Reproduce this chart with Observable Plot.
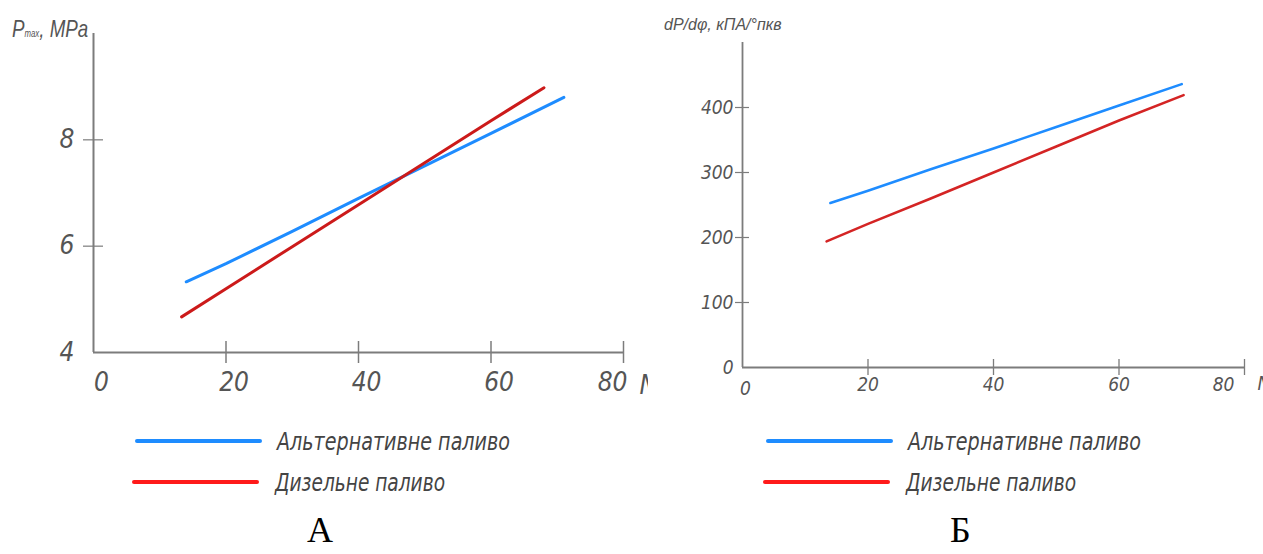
<!DOCTYPE html>
<html>
<head>
<meta charset="utf-8">
<script src="https://cdn.jsdelivr.net/npm/d3@7"></script>
<script src="https://cdn.jsdelivr.net/npm/@observablehq/plot@0.6"></script>
<style>
  html, body { margin: 0; padding: 0; background: #fff; }
  body { width: 1263px; height: 554px; position: relative; overflow: hidden; font-family: "Liberation Sans Narrow", "DejaVu Sans Condensed", sans-serif; }
  .panel { position: absolute; top: 0; height: 410px; overflow: hidden; }
  .ytitle { position: absolute; font-style: italic; color: #555; white-space: nowrap; font-family: "Liberation Sans Narrow", sans-serif; transform-origin: left top; }
  .cap { position: absolute; font-family: "Liberation Serif", serif; font-size: 36px; color: #000; }
  #legend { position: absolute; left: 0; top: 0; pointer-events: none; }
</style>
</head>
<body>
<div id="A" class="panel" style="left:0;width:648px"></div>
<div id="B" class="panel" style="left:648px;width:615px"></div>
<div class="ytitle" style="left:12px;top:15px;font-size:24px;transform:scaleX(0.78)">P<span style="font-size:10px">max</span>, MPa</div>
<div class="ytitle" style="left:664px;top:16px;font-size:16px">dP/dφ, кПА/°пкв</div>
<svg id="legend" width="1263" height="554"></svg>
<div class="cap" style="left:307px;top:509px">А</div>
<div class="cap" style="left:950px;top:509px">Б</div>
<script>
// ---- data ----
const seriesNames = ["Альтернативне паливо", "Дизельне паливо"];
// panel A: Pmax, MPa
const xA_alt = [14, 20, 30, 40, 50, 60, 71];
const yA_alt = [5.33, 5.67, 6.28, 6.90, 7.51, 8.12, 8.80];
const xA_dsl = [13.3, 20, 30, 40, 50, 60, 68];
const yA_dsl = [4.67, 5.20, 5.99, 6.78, 7.57, 8.36, 8.98];
// panel B: dP/dφ, кПА/°пкв
const xB_alt = [14, 20, 30, 40, 50, 60, 70];
const yB_alt = [253, 272, 305, 337, 370, 403, 436];
const xB_dsl = [13.4, 20, 30, 40, 50, 60, 70.3];
const yB_dsl = [194, 221, 260, 300, 340, 380, 419];
// ticks
const xTicks = [0, 20, 40, 60, 80];
const yTicksA = [4, 6, 8];
const yTicksB = [0, 100, 200, 300, 400];
const xAxisName = "N";

const rows = (xs, ys, s) => xs.map((x, i) => ({x, y: ys[i], s}));
const dataA = [...rows(xA_alt, yA_alt, seriesNames[0]), ...rows(xA_dsl, yA_dsl, seriesNames[1])];
const dataB = [...rows(xB_alt, yB_alt, seriesNames[0]), ...rows(xB_dsl, yB_dsl, seriesNames[1])];

const axisCol = "#7c7c7c";
const labCol = "#555";
const font = "'Liberation Sans Narrow', 'DejaVu Sans Condensed', sans-serif";
const blank = () => "";
const intFmt = d3.format("d");

const plotA = Plot.plot({
  width: 648, height: 410,
  marginLeft: 93, marginRight: 25, marginTop: 33, marginBottom: 58,
  x: {domain: [0, 80]},
  y: {domain: [4, 10]},
  color: {domain: seriesNames, range: ["#1e8cff", "#cc1a1a"]},
  style: {fontFamily: font, background: "transparent", overflow: "hidden"},
  marks: [
    Plot.ruleX([0], {stroke: axisCol, strokeWidth: 2}),
    Plot.ruleY([4], {stroke: axisCol, strokeWidth: 2}),
    Plot.axisX(xTicks.slice(1), {tickSize: 22, dy: -11, tickFormat: blank, color: axisCol, strokeWidth: 1.5, label: null}),
    Plot.axisY(yTicksA.slice(1), {tickSize: 20, dx: 10, tickFormat: blank, color: axisCol, strokeWidth: 1.2, label: null}),
    Plot.axisX(xTicks.slice(0, 4), {tickSize: 0, tickPadding: 20, dx: 8, tickFormat: intFmt, fontSize: 26, fontStyle: "italic", color: labCol, label: null}),
    Plot.axisX(xTicks.slice(4), {tickSize: 0, tickPadding: 20, dx: -11, tickFormat: intFmt, fontSize: 26, fontStyle: "italic", color: labCol, label: null}),
    Plot.axisY(yTicksA, {tickSize: 0, tickPadding: 19, tickFormat: intFmt, fontSize: 26, fontStyle: "italic", color: labCol, label: null}),
    Plot.text([xAxisName], {x: () => 80, y: () => 4, dx: 16, dy: 33, textAnchor: "start", fontSize: 26, fontStyle: "italic", fill: labCol}),
    Plot.line(dataA, {x: "x", y: "y", stroke: "s", strokeWidth: 3, curve: "linear"})
  ]
});
document.getElementById("A").appendChild(plotA);

const plotB = Plot.plot({
  width: 615, height: 410,
  marginLeft: 94, marginRight: 19, marginTop: 42, marginBottom: 43,
  x: {domain: [0, 80]},
  y: {domain: [0, 500]},
  color: {domain: seriesNames, range: ["#1e8cff", "#d42424"]},
  style: {fontFamily: font, background: "transparent", overflow: "hidden"},
  marks: [
    Plot.ruleX([0], {stroke: axisCol, strokeWidth: 1.8}),
    Plot.ruleY([0], {stroke: axisCol, strokeWidth: 1.8}),
    Plot.axisX(xTicks.slice(1), {tickSize: 16, dy: -8, tickFormat: blank, color: axisCol, strokeWidth: 1.3, label: null}),
    Plot.axisY(yTicksB.slice(1), {tickSize: 14, dx: 7, tickFormat: blank, color: axisCol, strokeWidth: 1.2, label: null}),
    Plot.axisX(xTicks.slice(1, 4), {tickSize: 0, tickPadding: 10, tickFormat: intFmt, fontSize: 19, fontStyle: "italic", color: labCol, label: null}),
    Plot.axisX(xTicks.slice(0, 1), {tickSize: 0, tickPadding: 14, dx: 3, tickFormat: intFmt, fontSize: 19, fontStyle: "italic", color: labCol, label: null}),
    Plot.axisX(xTicks.slice(4), {tickSize: 0, tickPadding: 10, dx: -21, tickFormat: intFmt, fontSize: 19, fontStyle: "italic", color: labCol, label: null}),
    Plot.axisY(yTicksB, {tickSize: 0, tickPadding: 9, tickFormat: intFmt, fontSize: 19, fontStyle: "italic", color: labCol, label: null}),
    Plot.text([xAxisName], {x: () => 80, y: () => 0, dx: 13, dy: 16, textAnchor: "start", fontSize: 19, fontStyle: "italic", fill: labCol}),
    Plot.line(dataB, {x: "x", y: "y", stroke: "s", strokeWidth: 2.5, curve: "linear"})
  ]
});
document.getElementById("B").appendChild(plotB);

// ---- legends (below each chart) ----
const legendColors = ["#1e8cff", "#ff1a1a"];
const legendTextLen = [233, 170];
const leg = d3.select("#legend");
[{x0: 137, tx: 277}, {x0: 768, tx: 908}].forEach(p => {
  seriesNames.forEach((name, i) => {
    const yy = 441 + i * 41;
    const dx = i === 0 ? 0 : -3;
    leg.append("line")
      .attr("x1", p.x0 + dx).attr("x2", p.x0 + dx + 123)
      .attr("y1", yy).attr("y2", yy)
      .attr("stroke", legendColors[i]).attr("stroke-width", 4).attr("stroke-linecap", "round");
    leg.append("text")
      .attr("x", p.tx + (i === 0 ? 0 : -2)).attr("y", yy + 9)
      .attr("font-family", font).attr("font-style", "italic").attr("font-size", 25)
      .attr("fill", "#444")
      .attr("textLength", legendTextLen[i]).attr("lengthAdjust", "spacingAndGlyphs")
      .text(name);
  });
});
</script>
</body>
</html>
